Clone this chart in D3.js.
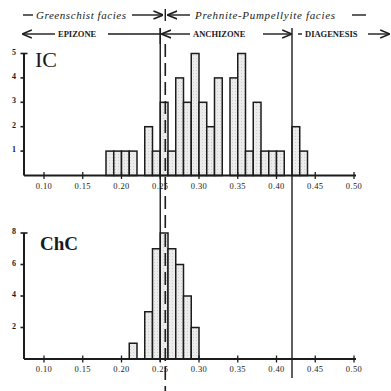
<!DOCTYPE html>
<html>
<head>
<meta charset="utf-8">
<script src="https://cdn.jsdelivr.net/npm/d3@7/dist/d3.min.js"></script>
<style>
  body { margin: 0; background: #fff; }
  svg { display: block; }
  text { font-family: "Liberation Serif", "DejaVu Serif", serif; fill: #1a1a1a; }
</style>
</head>
<body>
<div id="chart"></div>
<script>
// bin lower edges (width 0.01) and counts
const binWidth = 0.01;
const icBins = [0.18, 0.19, 0.20, 0.21, 0.23, 0.24, 0.25, 0.26, 0.27, 0.28, 0.29, 0.30,
                0.31, 0.32, 0.34, 0.35, 0.36, 0.37, 0.38, 0.39, 0.40, 0.42, 0.43];
const icCounts = [1, 1, 1, 1, 2, 1, 3, 1, 4, 3, 5, 3, 2, 4, 4, 5, 1, 3, 1, 1, 1, 2, 1];
const chcBins = [0.21, 0.23, 0.24, 0.25, 0.26, 0.27, 0.28, 0.29];
const chcCounts = [1, 3, 7, 8, 7, 6, 4, 2];
const xTicks = [0.10, 0.15, 0.20, 0.25, 0.30, 0.35, 0.40, 0.45, 0.50];
const icYTicks = [1, 2, 3, 4, 5];
const chcYTicks = [2, 4, 6, 8];
const faciesBoundary = 0.25;     // greenschist / prehnite-pumpellyite, epizone / anchizone
const faciesDashed = 0.2565;
const diagenesisBoundary = 0.42; // anchizone / diagenesis

const W = 391, H = 391;
const axisX0 = 24, axisX1 = 356;
const ink = '#1c1c1c';

const svg = d3.select('#chart').append('svg')
  .attr('width', W).attr('height', H);

const x = d3.scaleLinear().domain([0.10, 0.50]).range([44, 354]);

const defs = svg.append('defs');
const pat = defs.append('pattern').attr('id', 'stip')
  .attr('width', 3).attr('height', 3).attr('patternUnits', 'userSpaceOnUse');
pat.append('rect').attr('width', 3).attr('height', 3).attr('fill', '#ececec');
pat.append('rect').attr('x', 1).attr('y', 1).attr('width', 1).attr('height', 1).attr('fill', '#cfcfcf');

defs.append('marker').attr('id', 'arr')
  .attr('viewBox', '0 0 10 10').attr('refX', 9).attr('refY', 5)
  .attr('markerWidth', 7).attr('markerHeight', 7).attr('orient', 'auto-start-reverse')
  .append('path').attr('d', 'M0,1 L10,5 L0,9').attr('fill', 'none')
  .attr('stroke', ink).attr('stroke-width', 1.6);

function panel(bins, counts, yTicks, yMax, yTop, yBase, label, labelOpts) {
  const y = d3.scaleLinear().domain([0, yMax]).range([yBase, yTop]);
  const g = svg.append('g');
  const data = bins.map((b, i) => ({ b: b, c: counts[i] }));

  g.selectAll('rect.bar').data(data).join('rect')
    .attr('class', 'bar')
    .attr('x', d => x(d.b))
    .attr('y', d => y(d.c))
    .attr('width', d => x(d.b + binWidth) - x(d.b))
    .attr('height', d => y(0) - y(d.c))
    .attr('fill', 'url(#stip)')
    .attr('stroke', ink).attr('stroke-width', 1.5);

  // x axis
  g.append('line').attr('x1', axisX0).attr('x2', axisX1)
    .attr('y1', yBase).attr('y2', yBase)
    .attr('stroke', ink).attr('stroke-width', 1.8);
  g.selectAll('line.xt').data(xTicks).join('line').attr('class', 'xt')
    .attr('x1', d => x(d)).attr('x2', d => x(d))
    .attr('y1', yBase - 3.5).attr('y2', yBase + 3.5)
    .attr('stroke', ink).attr('stroke-width', 1.3);
  g.selectAll('text.xl').data(xTicks).join('text').attr('class', 'xl')
    .attr('x', d => x(d)).attr('y', yBase + 13)
    .attr('text-anchor', 'middle').attr('font-size', 8.5)
    .attr('letter-spacing', 0.4)
    .text(d => d3.format('.2f')(d));

  // y axis
  g.append('line').attr('x1', axisX0).attr('x2', axisX0)
    .attr('y1', yBase).attr('y2', y(yMax))
    .attr('stroke', ink).attr('stroke-width', 2);
  g.selectAll('line.yt').data(yTicks).join('line').attr('class', 'yt')
    .attr('x1', axisX0 - 3.5)
    .attr('x2', d => d === yMax ? axisX0 + 3.5 : axisX0 + 1)
    .attr('y1', d => y(d)).attr('y2', d => y(d))
    .attr('stroke', ink).attr('stroke-width', 1.6);
  g.selectAll('text.yl').data(yTicks).join('text').attr('class', 'yl')
    .attr('x', 16).attr('y', d => y(d) + 1)
    .attr('text-anchor', 'end').attr('font-size', 8).attr('font-weight', 'bold')
    .text(d => d);

  g.append('text').attr('x', labelOpts.x).attr('y', labelOpts.y)
    .attr('font-size', labelOpts.size).attr('font-weight', labelOpts.weight)
    .text(label);
  return y;
}

panel(icBins, icCounts, icYTicks, 5, 53.5, 175.5, 'IC', { x: 35, y: 67, size: 22, weight: 'normal' });
panel(chcBins, chcCounts, chcYTicks, 8, 233, 359, 'ChC', { x: 40, y: 250, size: 19, weight: 'bold' });

// boundary lines
const xb = x(faciesBoundary), xd = x(faciesDashed), xg = x(diagenesisBoundary);
svg.append('line').attr('x1', xb).attr('x2', xb).attr('y1', 28).attr('y2', 362)
  .attr('stroke', ink).attr('stroke-width', 1.4);
svg.append('line').attr('x1', xd).attr('x2', xd).attr('y1', 44).attr('y2', 391)
  .attr('stroke', ink).attr('stroke-width', 1.6).attr('stroke-dasharray', '13,6');
svg.append('line').attr('x1', xg).attr('x2', xg).attr('y1', 28).attr('y2', 378)
  .attr('stroke', ink).attr('stroke-width', 1.4);

// header row 1: facies
const r1 = 15;
function hline(x1, x2, yy, markEnd, markStart) {
  const l = svg.append('line').attr('x1', x1).attr('x2', x2).attr('y1', yy).attr('y2', yy)
    .attr('stroke', ink).attr('stroke-width', 1.4);
  if (markEnd) l.attr('marker-end', 'url(#arr)');
  if (markStart) l.attr('marker-start', 'url(#arr)');
}
hline(23, 33, r1);
svg.append('text').attr('x', 36).attr('y', r1 + 3.5).attr('font-size', 11)
  .attr('font-style', 'italic').attr('textLength', 90).text('Greenschist facies');
hline(132, xd - 3, r1, true);
svg.append('line').attr('x1', xd).attr('x2', xd).attr('y1', r1 - 6).attr('y2', r1 + 6)
  .attr('stroke', ink).attr('stroke-width', 1.4);
hline(xd + 3, 190, r1, false, true);
svg.append('text').attr('x', 195).attr('y', r1 + 3.5).attr('font-size', 11)
  .attr('font-style', 'italic').attr('textLength', 140).text('Prehnite-Pumpellyite facies');
hline(352, 366, r1);

// header row 2: zones
const r2 = 34;
hline(23, 55, r2, false, true);
svg.append('text').attr('x', 58).attr('y', r2 + 3).attr('font-size', 8.5)
  .attr('font-weight', 'bold').text('EPIZONE');
hline(108, xb, r2);
svg.append('line').attr('x1', xb).attr('x2', xb).attr('y1', r2 - 6).attr('y2', r2 + 10)
  .attr('stroke', ink).attr('stroke-width', 1.4);
hline(xb + 2, 190, r2, false, true);
svg.append('text').attr('x', 193).attr('y', r2 + 3).attr('font-size', 8.5)
  .attr('font-weight', 'bold').text('ANCHIZONE');
hline(263, xg - 1, r2, true);
hline(298, 302, r2);
svg.append('text').attr('x', 305).attr('y', r2 + 3).attr('font-size', 8.5)
  .attr('font-weight', 'bold').text('DIAGENESIS');
hline(368, 389, r2, true);
</script>
</body>
</html>
